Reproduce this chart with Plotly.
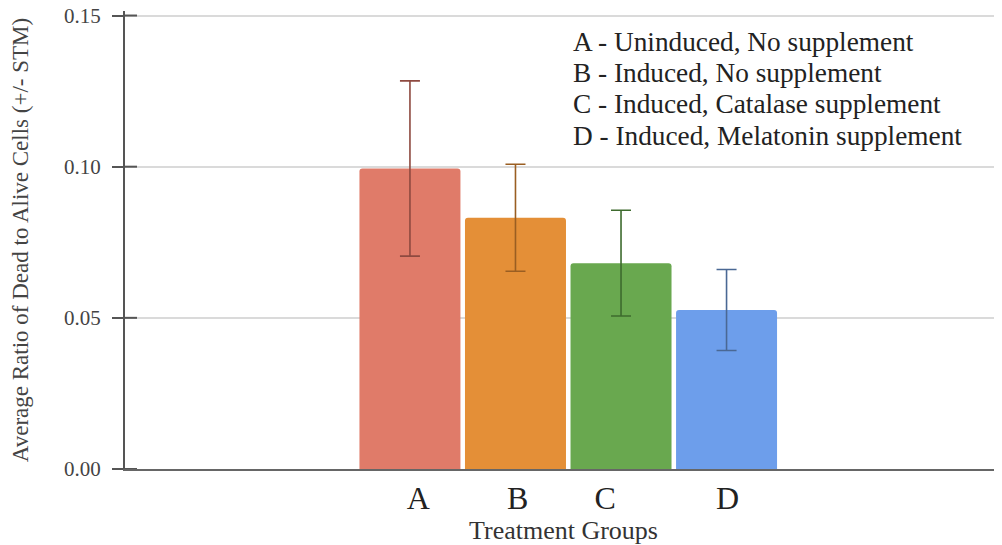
import plotly.graph_objects as go

groups = ["A", "B", "C", "D"]
means = [0.0994, 0.0831, 0.0681, 0.0526]
errors = [0.0290, 0.0177, 0.0175, 0.0134]
legend_lines = [
    "A - Uninduced, No supplement",
    "B - Induced, No supplement",
    "C - Induced, Catalase supplement",
    "D - Induced, Melatonin supplement",
]
y_ticks = [0.0, 0.05, 0.10, 0.15]
y_tick_labels = ["0.00", "0.05", "0.10", "0.15"]

bar_colors = ["#E07B69", "#E48F37", "#69A84F", "#6D9EEB"]
err_colors = ["#8E4A40", "#9A5E22", "#3E6B2E", "#4A6894"]
tick_offsets = [0.08, 0.02, -0.15, 0.01]  # label placement quirks of the original
legend_y = [0.932, 0.865, 0.797, 0.727]
SERIF = "Liberation Serif, Times New Roman, serif"

fig = go.Figure()
for i, g in enumerate(groups):
    fig.add_trace(go.Bar(
        x=[i], y=[means[i]], width=0.957,
        marker=dict(color=bar_colors[i], line=dict(width=0), cornerradius=3),
        error_y=dict(type="data", array=[errors[i]], visible=True,
                     color=err_colors[i], thickness=1.6, width=10),
        showlegend=False, name=g,
    ))

for k, line in enumerate(legend_lines):
    fig.add_annotation(text=line, xref="paper", yref="paper",
                       x=0.510, y=legend_y[k], borderpad=0,
                       xanchor="left", yanchor="middle", showarrow=False,
                       font=dict(family=SERIF, size=27.3, color="#222"))

# inner half of the crossing y ticks
for t in y_ticks:
    fig.add_shape(type="line", xref="paper", yref="y", x0=0, x1=12 / 877,
                  y0=t, y1=t, line=dict(color="#555", width=2))

fig.update_layout(
    width=994, height=537,
    margin=dict(l=117, r=0, t=3, b=76),
    plot_bgcolor="white", paper_bgcolor="white",
    font=dict(family=SERIF, color="#333"),
    xaxis=dict(range=[-2.70, 5.61], automargin=False,
               tickvals=[i + o for i, o in enumerate(tick_offsets)],
               ticktext=groups, tickfont=dict(size=32, color="#222"),
               showgrid=False, zeroline=False, ticks="",
               showline=True, linecolor="#666", linewidth=2,
               title=dict(text="Treatment Groups", font=dict(size=26, color="#333"), standoff=9)),
    yaxis=dict(range=[0, 0.1515], tickvals=y_ticks, ticktext=y_tick_labels,
               automargin=False, ticklabeloverflow="allow",
               tickfont=dict(size=21, color="#444"), ticklabelstandoff=7,
               showgrid=True, gridcolor="#DADADA", gridwidth=1.5, zeroline=False,
               ticks="outside", ticklen=11, tickwidth=2, tickcolor="#555",
               showline=True, linecolor="#555", linewidth=2,
               title=dict(text="Average Ratio of Dead to Alive Cells (+/- STM)",
                          font=dict(size=23, color="#444"), standoff=31)),
)

fig.write_html("out.html")
